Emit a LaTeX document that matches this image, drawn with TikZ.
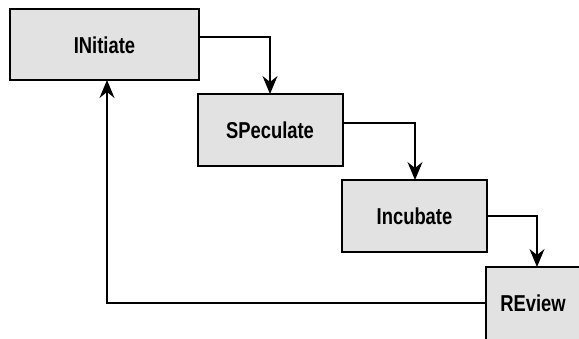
\documentclass[tikz,border=0pt]{standalone}
\usepackage{fontspec}
\setmainfont{Liberation Sans}[FakeStretch=0.8]
\usetikzlibrary{arrows.meta}
\definecolor{boxgray}{HTML}{E2E2E2}
\begin{document}
\begin{tikzpicture}[x=1pt,y=-1pt,
  stagebox/.style={draw=black,line width=1.5pt,fill=boxgray,rectangle},
  stagetext/.style={font=\bfseries\fontsize{23}{25}\selectfont,inner sep=0pt},
  flow/.style={line width=1.8pt,-{Stealth[length=18pt,width=15pt,inset=6pt]}}]
\useasboundingbox (0,0) rectangle (579,338);
\begin{scope}
\clip (0,0) rectangle (579,338);
\draw[stagebox] (10,9) rectangle (199,80);
\draw[stagebox] (198,94) rectangle (343,166);
\draw[stagebox] (342,180) rectangle (487,252);
\draw[stagebox] (486,267) rectangle (640,345);
\end{scope}
\node[stagetext] (t1) at (104.5,45) {INitiate};
\node[stagetext] (t2) at (270,130) {SPeculate};
\node[stagetext] (t3) at (414.5,216) {Incubate};
\node[stagetext] (t4) at (533,303) {REview};
\coordinate (o1) at (199,37);
\coordinate (i2) at (270,94);
\coordinate (o2) at (343,123);
\coordinate (i3) at (415,180);
\coordinate (o3) at (487,216);
\coordinate (i4) at (537,267);
\coordinate (o4) at (486,303);
\coordinate (i1) at (107,80);
\draw[flow] (o1) -| (i2);
\draw[flow] (o2) -| (i3);
\draw[flow] (o3) -| (i4);
\draw[flow] (o4) -| (i1);
\end{tikzpicture}
\end{document}
